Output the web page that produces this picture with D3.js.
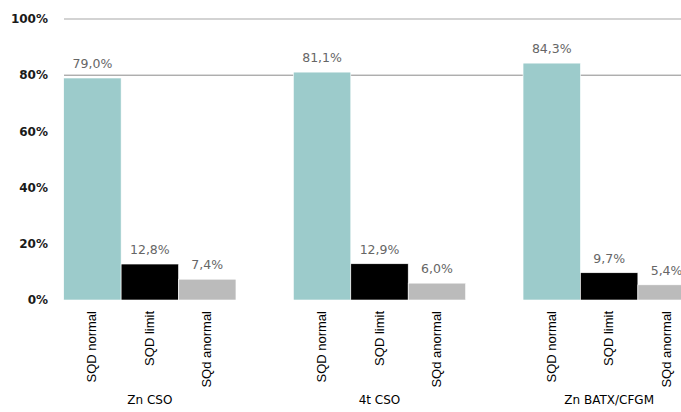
<!DOCTYPE html>
<html>
<head>
<meta charset="utf-8">
<script src="https://cdn.jsdelivr.net/npm/d3@7"></script>
<style>
  body { margin: 0; background: #fff; }
  svg { display: block; }
</style>
</head>
<body>
<script>
// chart data
var groups = ["Zn CSO", "4t CSO", "Zn BATX/CFGM"];
var series = ["SQD normal", "SQD limit", "SQd anormal"];
var values = [
  [79.0, 12.8, 7.4],
  [81.1, 12.9, 6.0],
  [84.3, 9.7, 5.4]
];
var labels = [
  ["79,0%", "12,8%", "7,4%"],
  ["81,1%", "12,9%", "6,0%"],
  ["84,3%", "9,7%", "5,4%"]
];
var yTicks = [0, 20, 40, 60, 80, 100];
var colors = ["#9ccbcb", "#000000", "#bbbbbb"];

var width = 681, height = 412;
var svg = d3.select("body").append("svg")
    .attr("width", width).attr("height", height);

var y = d3.scaleLinear().domain([0, 100]).range([300, 19]);

var x0 = d3.scaleBand().domain(groups)
    .range([35, 724]).paddingInner(0.25).paddingOuter(0.125);
var x1 = d3.scaleBand().domain(series)
    .range([0, x0.bandwidth()]);

// gridlines (only top two show in the original)
svg.append("line")
    .attr("x1", 64).attr("x2", width)
    .attr("y1", y(100)).attr("y2", y(100))
    .attr("stroke", "#c4c4c4").attr("stroke-width", 1.5);
svg.append("line")
    .attr("x1", 64).attr("x2", width)
    .attr("y1", y(80)).attr("y2", y(80))
    .attr("stroke", "#8a8a8a").attr("stroke-width", 1);

// y labels
svg.selectAll(".ytick")
    .data(yTicks)
    .enter()
    .append("text")
    .attr("x", 48)
    .attr("y", function(d) { return y(d); })
    .attr("dy", "0.35em")
    .attr("text-anchor", "end")
    .attr("font-family", "DejaVu Sans, sans-serif")
    .attr("font-size", 12)
    .attr("font-weight", "bold")
    .attr("fill", "#1a1a1a")
    .text(function(d) { return d + "%"; });

var g = svg.selectAll(".group")
    .data(groups)
    .enter()
    .append("g")
    .attr("transform", function(d) { return "translate(" + x0(d) + ",0)"; });

g.selectAll("rect")
    .data(function(d, i) { return values[i].map(function(v, j) { return {v: v, s: series[j], j: j}; }); })
    .enter()
    .append("rect")
    .attr("x", function(d) { return x1(d.s); })
    .attr("width", x1.bandwidth())
    .attr("y", function(d) { return y(d.v); })
    .attr("height", function(d) { return y(0) - y(d.v); })
    .attr("fill", function(d) { return colors[d.j]; })
    .attr("stroke", "#ffffff")
    .attr("stroke-width", 0.6);

// value labels
g.selectAll(".val")
    .data(function(d, i) { return values[i].map(function(v, j) { return {v: v, s: series[j], t: labels[i][j]}; }); })
    .enter()
    .append("text")
    .attr("x", function(d) { return x1(d.s) + x1.bandwidth() / 2; })
    .attr("y", function(d) { return y(d.v) - 10; })
    .attr("text-anchor", "middle")
    .attr("font-family", "DejaVu Sans, sans-serif")
    .attr("font-size", 12.5)
    .attr("fill", "#666666")
    .text(function(d) { return d.t; });

// rotated series labels
g.selectAll(".tick")
    .data(series)
    .enter()
    .append("text")
    .attr("transform", function(d) {
      return "translate(" + (x1(d) + x1.bandwidth() / 2 + 4) + ",311) rotate(-90)";
    })
    .attr("text-anchor", "end")
    .attr("font-family", "Liberation Sans Narrow, Liberation Sans, sans-serif")
    .attr("font-size", 13)
    .attr("fill", "#000")
    .text(function(d) { return d; });

// group labels
g.append("text")
    .attr("x", x0.bandwidth() / 2)
    .attr("y", 404)
    .attr("text-anchor", "middle")
    .attr("font-family", "DejaVu Sans, sans-serif")
    .attr("font-size", 12)
    .attr("fill", "#000")
    .text(function(d) { return d; });
</script>
</body>
</html>
